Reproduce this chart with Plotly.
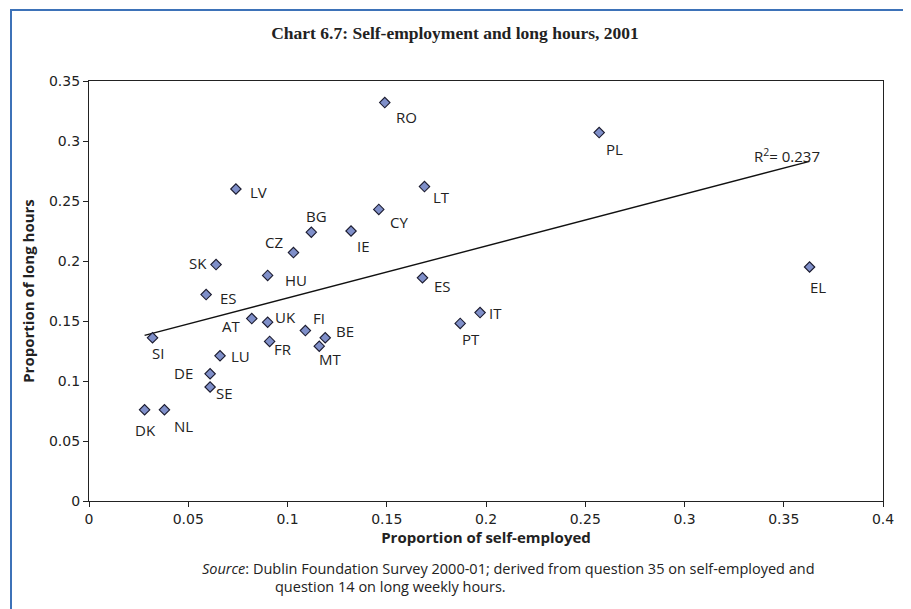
import plotly.graph_objects as go

# ---- data ----
countries = ["RO", "PL", "LT", "CY", "IE", "ES", "IT", "PT", "EL", "LV", "BG", "CZ",
             "SK", "HU", "ES", "AT", "UK", "FI", "BE", "MT", "FR", "SI", "LU", "DE",
             "SE", "DK", "NL"]
self_employed = [0.149, 0.257, 0.169, 0.146, 0.132, 0.168, 0.197, 0.187, 0.363, 0.074,
                 0.112, 0.103, 0.064, 0.090, 0.059, 0.082, 0.090, 0.109, 0.119, 0.116,
                 0.091, 0.032, 0.066, 0.061, 0.061, 0.028, 0.038]
long_hours = [0.332, 0.307, 0.262, 0.243, 0.225, 0.186, 0.157, 0.148, 0.195, 0.260,
              0.224, 0.207, 0.197, 0.188, 0.172, 0.152, 0.149, 0.142, 0.136, 0.129,
              0.133, 0.136, 0.121, 0.106, 0.095, 0.076, 0.076]
trend_x = [0.028, 0.363]
trend_y = [0.138, 0.283]
r_squared = 0.237

x_ticks = [0, 0.05, 0.1, 0.15, 0.2, 0.25, 0.3, 0.35, 0.4]
y_ticks = [0, 0.05, 0.1, 0.15, 0.2, 0.25, 0.3, 0.35]

# ---- label offsets (pixels, dx right, dy down) ----
label_offsets = [(22, 14), (15, 16), (17, 10), (20, 13), (12, 15), (20, 8), (15, 0),
                 (11, 16), (8, 20), (23, 3), (5, -16), (-19, -11), (-18, -2), (28, 5),
                 (22, 3), (-21, 7), (18, -5), (14, -13), (20, -7), (11, 13), (13, 8),
                 (5, 15), (20, 0), (-27, -1), (14, 6), (1, 20), (19, 16)]

LABEL_FONT = "Open Sans, Noto Sans, sans-serif"
TICK_FONT = "DejaVu Sans, sans-serif"
TXT = "#222222"

# page offset: the browser body has an 8px margin
OFF = 8
PLOT_L, PLOT_R, PLOT_T, PLOT_B = 89, 883, 81, 501  # plot area in page pixels
W, H = 911 - OFF, 609 - OFF


def px_to_paper_x(px):
    return (px - PLOT_L) / (PLOT_R - PLOT_L)


def px_to_paper_y(py):
    return (PLOT_B - py) / (PLOT_B - PLOT_T)


fig = go.Figure()
fig.add_trace(go.Scatter(
    x=trend_x, y=trend_y, mode="lines",
    line=dict(color="#111111", width=1.4), hoverinfo="skip", showlegend=False))
fig.add_trace(go.Scatter(
    x=self_employed, y=long_hours, mode="markers",
    marker=dict(symbol="diamond", size=8, color="#7f8fc9",
                line=dict(color="#1a1a2e", width=1.1)),
    text=countries, showlegend=False))

annotations = []
for c, xv, yv, (dx, dy) in zip(countries, self_employed, long_hours, label_offsets):
    annotations.append(dict(x=xv, y=yv, text=c, showarrow=False, xshift=dx, yshift=-dy,
                            xanchor="center", yanchor="middle",
                            font=dict(family=LABEL_FONT, size=15, color=TXT)))

annotations.append(dict(x=trend_x[1], y=trend_y[1], text=f"R<sup>2</sup>= {r_squared}",
                        showarrow=False, xanchor="right", yanchor="middle", xshift=12, yshift=6,
                        font=dict(family=LABEL_FONT, size=15, color=TXT)))

annotations.append(dict(xref="paper", yref="paper", x=px_to_paper_x(200), y=px_to_paper_y(568),
                        xanchor="left", yanchor="middle", showarrow=False,
                        text="<i>Source</i>: Dublin Foundation Survey 2000-01; derived from question 35 on self-employed and",
                        font=dict(family=LABEL_FONT, size=14.5, color=TXT)))
annotations.append(dict(xref="paper", yref="paper", x=px_to_paper_x(273), y=px_to_paper_y(586),
                        xanchor="left", yanchor="middle", showarrow=False,
                        text="question 14 on long weekly hours.",
                        font=dict(family=LABEL_FONT, size=14.5, color=TXT)))

fig.update_layout(
    width=W, height=H,
    margin=dict(l=PLOT_L - OFF, r=W - (PLOT_R - OFF), t=PLOT_T - OFF, b=H - (PLOT_B - OFF)),
    paper_bgcolor="white", plot_bgcolor="white",
    title=dict(text="<b>Chart 6.7: Self-employment and long hours, 2001</b>",
               xref="container", yref="container", x=(455 - OFF) / W, y=1 - (33 - OFF) / H,
               xanchor="center", yanchor="middle",
               font=dict(family="Liberation Serif, Times New Roman, serif", size=17.5, color=TXT)),
    annotations=annotations,
    shapes=[dict(type="rect", xref="paper", yref="paper",
                 x0=px_to_paper_x(11), x1=px_to_paper_x(906),
                 y0=px_to_paper_y(660), y1=px_to_paper_y(10),
                 line=dict(color="#3d72b8", width=2), fillcolor="rgba(0,0,0,0)", layer="below")],
)

axis_common = dict(showgrid=False, zeroline=False, showline=True, linecolor="#222222", linewidth=1.3,
                   mirror=True, ticks="outside", ticklen=5, tickcolor="#222222",
                   tickfont=dict(family=TICK_FONT, size=14, color=TXT))
fig.update_xaxes(range=[0, 0.4], tickvals=x_ticks, ticktext=[f"{v:g}" for v in x_ticks],
                 title=dict(text="<b>Proportion of self-employed</b>", standoff=6,
                            font=dict(family=LABEL_FONT, size=15, color=TXT)),
                 **axis_common)
fig.update_yaxes(range=[0, 0.35], tickvals=y_ticks, ticktext=[f"{v:g}" for v in y_ticks],
                 title=dict(text="<b>Proportion of long hours</b>", standoff=10,
                            font=dict(family=LABEL_FONT, size=15, color=TXT)),
                 **axis_common)

fig.write_html("out.html")
